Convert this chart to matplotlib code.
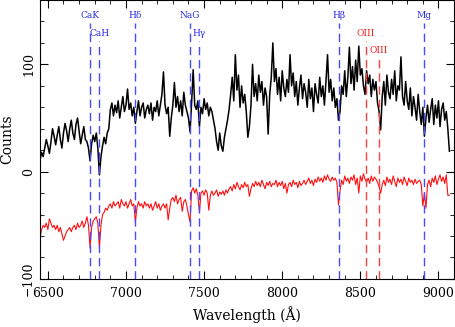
import matplotlib
matplotlib.use("Agg")
import matplotlib.pyplot as plt
import numpy as np
from matplotlib.ticker import MultipleLocator

# wavelength grid (Angstrom), 10 A steps
wave = np.arange(6450, 9080, 10)

# upper (black) spectrum, counts
black_counts = [
    11, 18, 14, 22, 30, 24, 17, 28, 40, 33,
    25, 34, 42, 30, 22, 36, 45, 38, 28, 40,
    48, 36, 30, 44, 50, 38, 26, 34, 42, 30,
    28, 22, 10, 26, 34, 28, 36, 22, -3, 14,
    24, 32, 26, 36, 40, 58, 64, 52, 62, 55,
    66, 50, 60, 70, 56, 62, 77, 58, 64, 52,
    60, 45, 56, 66, 52, 60, 64, 50, 58, 62,
    54, 64, 48, 60, 56, 66, 52, 62, 72, 93,
    62, 54, 60, 33, 50, 62, 83, 60, 70, 56,
    66, 52, 74, 62, 56, 50, 37, 64, 95, 62,
    58, 66, 42, 60, 54, 68, 58, 64, 52, 60,
    56, 48, 40, 28, 20, 36, 24, 19, 32, 40,
    48, 58, 72, 88, 66, 109, 76, 90, 60, 80,
    64, 72, 56, 32, 42, 62, 100, 70, 82, 66,
    90, 74, 84, 62, 78, 70, 35, 72, 88, 120,
    84, 96, 72, 88, 66, 94, 78, 70, 86, 74,
    109, 80, 92, 70, 84, 62, 78, 90, 68, 82,
    74, 60, 86, 68, 78, 56, 82, 72, 64, 88,
    70, 80, 62, 84, 109, 74, 86, 66, 78, 60,
    68, 48, 56, 80, 72, 94, 70, 88, 116, 82,
    98, 76, 104, 84, 117, 90, 96, 80, 72, 94,
    82, 90, 70, 86, 76, 84, 64, 56, 39, 70,
    84, 62, 90, 74, 68, 86, 72, 94, 66, 80,
    76, 107, 70, 62, 84, 66, 58, 78, 52, 70,
    60, 48, 72, 56, 44, 60, 33, 50, 62, 46,
    58, 68, 44, 62, 50, 66, 42, 58, 64, 48,
    56, 40, 19,
]

# lower (red) spectrum
red_counts = [
    -62, -54, -50, -52, -48, -54, -44, -48, -52, -50,
    -54, -50, -56, -52, -58, -64, -60, -56, -54, -52,
    -56, -52, -50, -54, -48, -52, -50, -46, -52, -48,
    -42, -50, -71, -52, -46, -44, -42, -48, -71, -50,
    -40, -38, -34, -36, -32, -30, -34, -28, -32, -30,
    -28, -34, -26, -30, -32, -28, -34, -30, -26, -32,
    -30, -47, -34, -28, -32, -30, -34, -28, -32, -30,
    -34, -30, -36, -32, -28, -34, -30, -36, -32, -30,
    -34, -30, -45, -34, -26, -24, -28, -22, -30, -26,
    -24, -37, -28, -26, -32, -40, -47, -18, -15, -20,
    -16, -22, -38, -20, -18, -22, -17, -20, -36, -22,
    -18, -22, -20, -17, -23, -19, -21, -18, -22, -17,
    -20, -16, -14, -18, -12, -16, -10, -14, -17, -12,
    -15, -10, -14, -12, -23, -16, -11, -14, -9, -13,
    -10, -14, -8, -12, -16, -10, -13, -9, -14, -11,
    -12, -8, -14, -10, -13, -9, -16, -11, -20, -12,
    -10, -14, -8, -12, -10, -15, -9, -13, -11, -8,
    -12, -9, -6, -11, -8, -13, -7, -10, -5, -9,
    -6, -10, -4, -8, -3, -7, -9, -5, -8, -6,
    -10, -31, -18, -8, -12, -4, -9, -6, -11, -5,
    -8, -3, -12, -6, -20, -4, -9, -2, -7, -10,
    -6, -11, -4, -9, -5, -7, -10, -14, -20, -12,
    -8, -13, -5, -10, -7, -12, -4, -9, -14, -6,
    -10, -7, -12, -5, -9, -13, -6, -10, -8, -12,
    -7, -11, -9, -8, -12, -32, -20, -34, -12, -8,
    -14, -6, -10, -4, -12, -7, -3, -9, -5, -11,
    -3, -22, -22,
]

# marked features: name, wavelength, label row, colour
line_names = ["CaK", "CaH", "H\u03b4", "NaG", "H\u03b3", "H\u03b2", "OIII", "OIII", "Mg"]
line_waves = [6770, 6830, 7060, 7408, 7470, 8366, 8535, 8618, 8907]
line_rows = [0, 1, 0, 0, 1, 0, 1, 2, 0]
line_kinds = ["abs", "abs", "abs", "abs", "abs", "abs", "em", "em", "abs"]

plt.rcParams["font.family"] = "DejaVu Serif"

fig = plt.figure(figsize=(4.55, 3.27), dpi=100)
ax = fig.add_axes([0.088, 0.147, 0.91, 0.853])

ax.plot(wave, black_counts, color="black", lw=1.1)
ax.plot(wave, red_counts, color="#ff1010", lw=0.8)

label_y = [146, 129, 113]
for name, wl, row, kind in zip(line_names, line_waves, line_rows, line_kinds):
    c_line = "#4a4aff" if kind == "abs" else "#ff4040"
    c_text = "#2a2ae8" if kind == "abs" else "#f02020"
    ax.plot([wl, wl], [-100, label_y[row] - 7], color=c_line, lw=1.0,
            linestyle=(0, (6, 3.5)))
    ax.text(wl, label_y[row], name, color=c_text, fontsize=6.5,
            ha="center", va="center")

ax.set_xlim(6450, 9100)
ax.set_ylim(-100, 160)
ax.xaxis.set_major_locator(MultipleLocator(500))
ax.xaxis.set_minor_locator(MultipleLocator(100))
ax.yaxis.set_major_locator(MultipleLocator(100))
ax.yaxis.set_minor_locator(MultipleLocator(20))
ax.tick_params(which="both", direction="in", top=True, right=True, labelsize=9)
ax.tick_params(which="major", length=6)
ax.tick_params(which="minor", length=3)
ax.tick_params(axis="x", pad=6)
for lab in ax.get_yticklabels():
    lab.set_rotation(90)
    lab.set_va("center")

ax.set_xlabel("Wavelength (\u00c5)", fontsize=10, labelpad=4)
ax.set_ylabel("Counts", fontsize=10, labelpad=6)

fig.savefig("out.png", dpi=100)
